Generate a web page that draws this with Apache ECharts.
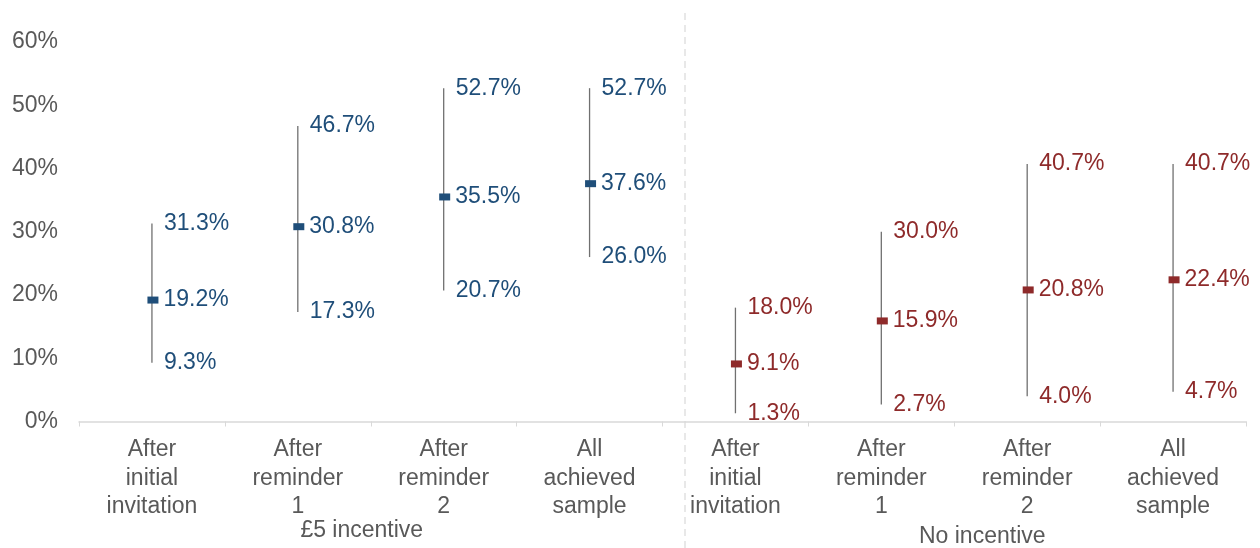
<!DOCTYPE html>
<html>
<head>
<meta charset="utf-8">
<title>Response rates by mailing stage</title>
<script src="https://cdn.jsdelivr.net/npm/echarts@6/dist/echarts.min.js"></script>
<style>
  html, body { margin: 0; padding: 0; background: #ffffff; }
  #chart { width: 1260px; height: 548px; }
</style>
</head>
<body>
<div id="chart"></div>
<script>
// Stages within each incentive group
const stages = ['After\ninitial\ninvitation', 'After\nreminder\n1', 'After\nreminder\n2', 'All\nachieved\nsample'];
const groups = ['£5 incentive', 'No incentive'];

// Point estimates and interval bounds (%)
const incentiveMid  = [19.2, 30.8, 35.5, 37.6];
const incentiveLow  = [9.3, 17.3, 20.7, 26.0];
const incentiveHigh = [31.3, 46.7, 52.7, 52.7];

const noIncentiveMid  = [9.1, 15.9, 20.8, 22.4];
const noIncentiveLow  = [1.3, 2.7, 4.0, 4.7];
const noIncentiveHigh = [18.0, 30.0, 40.7, 40.7];

// Y axis ticks (%)
const yTicks = [0, 10, 20, 30, 40, 50, 60];

const FONT = "'Liberation Sans', Arial, sans-serif";
const FS = 23;
const BLUE = '#1F4E79';
const RED = '#8E2A2A';
const AXIS_TEXT = '#595959';

const categories = stages.concat(stages);
const mid = incentiveMid.concat(noIncentiveMid);
const low = incentiveLow.concat(noIncentiveLow);
const high = incentiveHigh.concat(noIncentiveHigh);
const colorAt = i => (i < incentiveMid.length ? BLUE : RED);
const pct = v => v.toFixed(1) + '%';

function pointSeries(values, opts, distance) {
  return Object.assign({
    type: 'scatter',
    z: 5,
    data: values.map((v, i) => ({
      value: [i, v],
      itemStyle: { color: colorAt(i), opacity: 1 },
      label: { color: colorAt(i) }
    })),
    itemStyle: { opacity: 1 },
    label: {
      show: true,
      position: 'right',
      distance: distance,
      fontFamily: FONT,
      fontSize: FS,
      opacity: 1,
      formatter: p => pct(p.value[1])
    },
    emphasis: { disabled: true },
    silent: true
  }, opts);
}

const chart = echarts.init(document.getElementById('chart'), null, { renderer: 'canvas' });

chart.setOption({
  animation: false,
  backgroundColor: '#ffffff',
  grid: { left: 79, right: 14, top: 42, bottom: 126, containLabel: false },
  xAxis: [
    {
      type: 'category',
      data: categories,
      boundaryGap: true,
      axisLine: { show: true, lineStyle: { color: '#d9d9d9', width: 1.5 } },
      axisTick: { show: true, length: 5, alignWithLabel: false, lineStyle: { color: '#d9d9d9', width: 1 } },
      axisLabel: {
        interval: 0,
        margin: 14,
        color: AXIS_TEXT,
        fontFamily: FONT,
        fontSize: FS,
        lineHeight: 28.5,
        align: 'center'
      },
      splitLine: { show: false }
    },
    {
      type: 'category',
      data: groups,
      position: 'bottom',
      gridIndex: 0,
      axisLine: { show: false },
      axisTick: { show: false },
      axisLabel: {
        interval: 0,
        margin: 95,
        color: AXIS_TEXT,
        fontFamily: FONT,
        fontSize: FS,
        lineHeight: 28,
        formatter: (v, i) => (i === 0 ? '{a|' + v + '}' : '{b|' + v + '}'),
        rich: {
          a: { fontFamily: FONT, fontSize: FS, color: AXIS_TEXT, padding: [0, 18, 0, 0] },
          b: { fontFamily: FONT, fontSize: FS, color: AXIS_TEXT, padding: [12, 0, 0, 56] }
        }
      }
    }
  ],
  yAxis: {
    type: 'value',
    min: yTicks[0],
    max: yTicks[yTicks.length - 1],
    interval: yTicks[1] - yTicks[0],
    axisLine: { show: false },
    axisTick: { show: false },
    splitLine: { show: false },
    axisLabel: {
      margin: 21,
      color: AXIS_TEXT,
      fontFamily: FONT,
      fontSize: FS,
      formatter: v => v + '%'
    }
  },
  series: [
    {
      // vertical interval lines
      type: 'custom',
      z: 3,
      silent: true,
      data: low.map((v, i) => [i, v, high[i]]),
      encode: { x: 0, y: [1, 2] },
      renderItem: (params, api) => {
        const i = api.value(0);
        const p0 = api.coord([i, api.value(1)]);
        const p1 = api.coord([i, api.value(2)]);
        return {
          type: 'line',
          shape: { x1: p0[0], y1: p0[1], x2: p1[0], y2: p1[1] },
          style: { stroke: '#707070', lineWidth: 1.3 }
        };
      }
    },
    pointSeries(mid, { symbol: 'rect', symbolSize: [11, 7], symbolOffset: [1, 0] }, 5),
    pointSeries(high, { symbol: 'circle', symbolSize: 0 }, 12),
    pointSeries(low, { symbol: 'circle', symbolSize: 0 }, 12)
  ],
  graphic: [
    {
      // dashed divider between the two incentive groups
      type: 'line',
      silent: true,
      z: 1,
      shape: { x1: 685, y1: 13, x2: 685, y2: 548 },
      style: { stroke: '#d9d9d9', lineWidth: 1.2, lineDash: [7, 5] }
    }
  ]
});
</script>
</body>
</html>
